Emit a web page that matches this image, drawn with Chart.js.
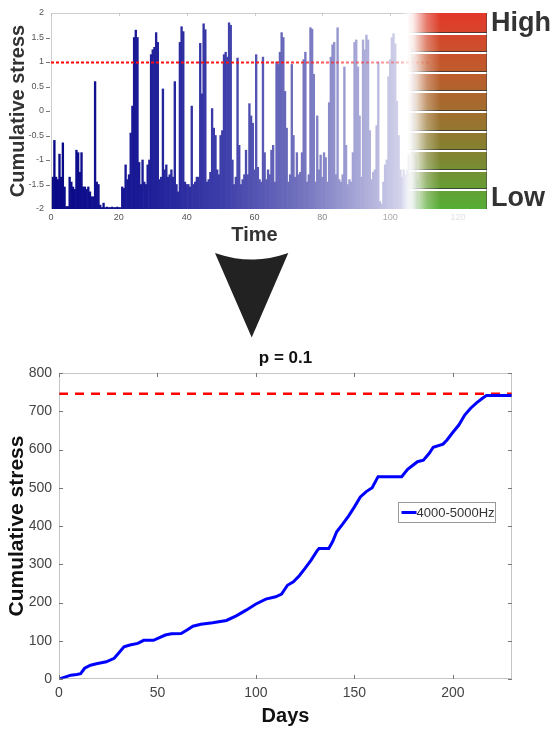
<!DOCTYPE html>
<html>
<head>
<meta charset="utf-8">
<script src="https://cdn.jsdelivr.net/npm/chart.js@4.4.1/dist/chart.umd.min.js"></script>
<style>
  html, body { margin: 0; padding: 0; background: #fff; }
  #wrap { position: relative; width: 556px; height: 731px; overflow: hidden; }
  #topChart { position: absolute; left: 0; top: 0; }
  #bottomChart { position: absolute; left: 0; top: 340px; }
  #arrow { position: absolute; left: 0; top: 0; }
</style>
</head>
<body>
<div id="wrap">
  <canvas id="topChart" width="556" height="250"></canvas>
  <svg id="arrow" width="556" height="340">
    <path d="M215,253 Q251.7,266 288.3,253 L251.7,337.5 Z" fill="#222"/>
  </svg>
  <canvas id="bottomChart" width="556" height="391"></canvas>
</div>
<script>
const FONT = "'Liberation Sans', Arial, Helvetica, sans-serif";

// ---- top panel: stress level per half time unit (t = 0.5, 1.0, ... 108)
const stressLevels = [
  -1.35,-0.6,-1.35,-1.4,-0.88,-1.35,-0.65,-1.55,-1.95,-1.95,
  -1.35,-1.45,-1.55,-1.6,-0.8,-0.85,-1.25,-0.85,-1.55,-1.55,
  -1.6,-1.55,-1.65,-1.75,-1.75,0.6,-1.45,-1.5,-1.92,-1.97,
  -1.88,-1.97,-1.96,-1.97,-1.97,-1.96,-1.97,-1.97,-1.96,-1.97,
  -1.97,-1.55,-1.58,-1.1,-1.4,-1.3,-0.45,0.1,1.5,1.65,
  1.5,-1.05,-1.5,-1.0,-1.45,-1.5,-1.1,-1.0,1.15,1.25,
  1.3,1.6,1.4,-1.4,-1.35,0.45,-1.2,-1.1,-1.35,-1.3,
  -1.2,-1.35,0.6,-1.5,-1.65,1.4,1.72,1.62,-1.45,-1.5,
  -1.5,-1.55,0.1,-1.5,-1.45,-1.35,-1.35,1.38,0.35,1.78,
  1.66,-1.45,-1.4,-1.25,0.05,-0.35,-0.5,-1.2,-1.3,-0.5,
  -0.4,1.15,1.2,1.1,1.8,1.75,-1.0,-1.5,-1.35,1.08,
  -0.7,-1.5,-1.4,-1.3,-0.8,-1.3,0.15,-0.1,-0.25,-1.2,
  1.15,-1.15,-1.4,-1.45,1.1,-0.85,-1.4,-1.2,-1.3,-0.8,
  -0.7,-1.45,1.0,0.95,1.2,1.6,1.5,0.4,-0.35,-1.45,
  -1.3,0.95,-0.5,-1.35,-0.85,-1.3,-1.25,-0.85,1.05,1.2,
  -1.45,-1.3,1.7,1.67,0.75,-1.45,-0.1,-1.2,-0.9,-1.35,
  -0.85,-0.95,-1.45,0.17,1.1,1.35,1.4,-1.3,1.7,-1.4,
  -1.45,-1.3,0.9,-0.7,-1.5,-1.4,-1.45,-0.85,1.4,1.45,
  0.9,-0.1,-1.35,1.45,1.25,1.55,1.45,-0.4,-1.4,-1.25,
  -1.2,-0.3,1.0,-1.85,-1.9,-1.45,-1.1,-1.0,0.7,1.05,
  1.5,1.58,1.37,0.2,-0.5,-1.2,-1.35,-1.2,-1.3,-1.2,
  -0.9,-1.3,1.3,1.1,-0.9,-1.4
];
const timeStep = 0.5;
const timeTicks = [0, 20, 40, 60, 80, 100, 120];
const levelTicks = [-2, -1.5, -1, -0.5, 0, 0.5, 1, 1.5, 2];
const stressThreshold = 1;

// ---- bottom panel: cumulative stress over days
const days = [0,3,6,9,11,13,16,19,24,28,30,33,36,40,43,48,51,54,57,62,65,68,72,78,85,
  90,95,100,105,110,113,116,119,122,125,128,131,132,137,139,141,144,147,150,153,156,159,162,
  174,177,180,182,185,188,190,195,197,200,203,206,209,212,215,217,230];
const cumulative = [0,5,10,12,14,28,36,40,45,54,66,84,89,93,101,101,108,115,118,119,128,138,143,147,153,
  165,180,196,209,215,222,245,254,270,290,311,335,341,341,360,385,405,426,450,476,490,500,529,
  529,548,560,568,572,590,606,614,625,645,664,690,708,722,734,741,741];
const dayTicks = [0, 50, 100, 150, 200];
const cumTicks = [0, 100, 200, 300, 400, 500, 600, 700, 800];
const cumThreshold = 746;

// blue gradient for the bars, fading to the right
let barGrad = null;
function barColor(c) {
  const chart = c.chart;
  const a = chart.chartArea;
  if (!a) return '#1a1a90';
  if (!barGrad) {
    const xs = chart.scales.x;
    const g = chart.ctx.createLinearGradient(xs.getPixelForValue(0), 0, xs.getPixelForValue(106), 0);
    g.addColorStop(0, 'rgb(8,8,135)');
    g.addColorStop(0.24, 'rgb(25,25,150)');
    g.addColorStop(0.48, 'rgb(62,62,170)');
    g.addColorStop(0.71, 'rgb(118,118,192)');
    g.addColorStop(0.9, 'rgb(182,182,222)');
    g.addColorStop(1, 'rgb(222,222,240)');
    barGrad = g;
  }
  return barGrad;
}

const topDecor = {
  id: 'topDecor',
  afterDatasetsDraw(chart) {
    const { ctx, chartArea: a, scales: { x, y } } = chart;
    ctx.save();
    // faint frame and ticks
    ctx.strokeStyle = 'rgba(185,185,185,0.7)';
    ctx.lineWidth = 1;
    ctx.beginPath();
    ctx.moveTo(a.left + 0.5, a.bottom);
    ctx.lineTo(a.left + 0.5, a.top + 0.5);
    ctx.lineTo(a.right, a.top + 0.5);
    timeTicks.forEach(t => {
      const px = Math.round(x.getPixelForValue(t)) + 0.5;
      ctx.moveTo(px, a.top);
      ctx.lineTo(px, a.top + 3);
    });
    ctx.stroke();
    ctx.strokeStyle = '#777';
    ctx.beginPath();
    levelTicks.slice(1, -1).forEach(v => {
      const py = Math.round(y.getPixelForValue(v)) + 0.5;
      ctx.moveTo(a.left - 5, py);
      ctx.lineTo(a.left - 1, py);
    });
    ctx.stroke();

    // red threshold line
    const yThr = Math.round(y.getPixelForValue(stressThreshold)) + 0.5;
    const x0 = a.left, x1 = x.getPixelForValue(112);
    const rg = ctx.createLinearGradient(x0, 0, x1, 0);
    rg.addColorStop(0, 'rgba(255,0,0,1)');
    rg.addColorStop(0.6, 'rgba(255,20,20,0.95)');
    rg.addColorStop(1, 'rgba(255,70,70,0.3)');
    ctx.strokeStyle = rg;
    ctx.lineWidth = 2;
    ctx.setLineDash([3, 2]);
    ctx.beginPath();
    ctx.moveTo(x0, yThr);
    ctx.lineTo(x1, yThr);
    ctx.stroke();
    ctx.setLineDash([]);

    // colour scale block
    const bx0 = Math.round(x.getPixelForValue(105));
    const bx1 = Math.round(a.right + 29);
    const yt = Math.round(y.getPixelForValue(2));
    const yb = Math.round(y.getPixelForValue(-2));
    const w = bx1 - bx0, h = yb - yt;
    const off = document.createElement('canvas');
    off.width = w; off.height = h;
    const o = off.getContext('2d');
    const vg = o.createLinearGradient(0, 0, 0, h);
    vg.addColorStop(0, '#e3382a');
    vg.addColorStop(0.25, '#c4572c');
    vg.addColorStop(0.5, '#a26d2e');
    vg.addColorStop(0.75, '#7d8732');
    vg.addColorStop(1, '#55ae36');
    o.fillStyle = vg;
    o.fillRect(0, 0, w, h);
    for (let k = 1; k < 10; k++) {
      const yy = Math.round(k * h / 10);
      o.fillStyle = 'rgba(45,45,45,0.75)';
      o.fillRect(0, yy - 1, w, 1);
      o.fillStyle = '#fff';
      o.fillRect(0, yy, w, 2);
    }
    o.fillStyle = 'rgba(60,60,60,0.5)';
    o.fillRect(w - 1, 0, 1, h);
    o.globalCompositeOperation = 'destination-in';
    const hg = o.createLinearGradient(0, 0, w, 0);
    hg.addColorStop(0, 'rgba(0,0,0,0)');
    hg.addColorStop(0.08, 'rgba(0,0,0,0.1)');
    hg.addColorStop(0.25, 'rgba(0,0,0,0.7)');
    hg.addColorStop(0.42, 'rgba(0,0,0,1)');
    hg.addColorStop(1, 'rgba(0,0,0,1)');
    o.fillStyle = hg;
    o.fillRect(0, 0, w, h);

    const wg = ctx.createLinearGradient(bx0 - 6, 0, bx0 + 22, 0);
    wg.addColorStop(0, 'rgba(255,255,255,0)');
    wg.addColorStop(0.35, 'rgba(255,255,255,0.92)');
    wg.addColorStop(1, 'rgba(255,255,255,0)');
    ctx.fillStyle = wg;
    ctx.fillRect(bx0 - 6, yt, 28, h);
    ctx.drawImage(off, bx0, yt);

    // High / Low labels
    ctx.fillStyle = '#333';
    ctx.font = 'bold 27px ' + FONT;
    ctx.textAlign = 'left';
    ctx.textBaseline = 'alphabetic';
    ctx.fillText('High', bx1 + 4, yt + 18);
    ctx.fillText('Low', bx1 + 4, yb - 3);
    ctx.restore();
  }
};

new Chart(document.getElementById('topChart'), {
  type: 'bar',
  data: {
    datasets: [{
      data: stressLevels.map((v, i) => ({ x: (i + 1) * timeStep, y: v })),
      base: -2,
      backgroundColor: barColor,
      borderWidth: 0,
      barPercentage: 1,
      categoryPercentage: 1
    }]
  },
  options: {
    responsive: false,
    animation: false,
    layout: { padding: { top: 13, right: 98, left: 0, bottom: 0 } },
    plugins: { legend: { display: false }, tooltip: { enabled: false } },
    scales: {
      x: {
        type: 'linear', min: 0, max: 120, offset: false,
        grid: { display: false, drawTicks: false }, border: { display: false },
        ticks: {
          stepSize: 20, padding: 3, maxRotation: 0,
          font: { family: FONT, size: 9 },
          color: c => c.tick.value >= 120 ? '#e2e2e2' : c.tick.value >= 100 ? '#aaa' : c.tick.value >= 80 ? '#888' : '#555'
        },
        title: { display: true, text: 'Time', color: '#333', font: { family: FONT, size: 20, weight: 'bold' }, padding: { top: 0, bottom: 3 } },
        afterFit: s => { s.height = 41; }
      },
      y: {
        min: -2, max: 2,
        grid: { display: false, drawTicks: false }, border: { display: false },
        ticks: { stepSize: 0.5, padding: 7, color: '#555', font: { family: FONT, size: 9 }, callback: v => String(v) },
        title: { display: true, text: 'Cumulative stress', color: '#333', font: { family: FONT, size: 20, weight: 'bold' }, padding: { top: 6, bottom: 0 } },
        afterFit: s => { s.width = 51; }
      }
    }
  },
  plugins: [topDecor]
});

const bottomDecor = {
  id: 'bottomDecor',
  afterDraw(chart) {
    const { ctx, chartArea: a, scales: { x, y } } = chart;
    ctx.save();
    // dotted box
    ctx.strokeStyle = '#8a8a8a';
    ctx.lineWidth = 1;
    ctx.setLineDash([1, 1]);
    ctx.strokeRect(a.left + 0.5, a.top + 0.5, a.right - a.left - 1, a.bottom - a.top - 1);
    ctx.setLineDash([]);
    // inward ticks
    ctx.strokeStyle = '#777';
    ctx.beginPath();
    cumTicks.forEach(v => {
      const py = Math.round(y.getPixelForValue(v)) + 0.5;
      ctx.moveTo(a.left, py); ctx.lineTo(a.left + 4, py);
      ctx.moveTo(a.right, py); ctx.lineTo(a.right - 4, py);
    });
    dayTicks.forEach(d => {
      const px = Math.round(x.getPixelForValue(d)) + 0.5;
      ctx.moveTo(px, a.bottom); ctx.lineTo(px, a.bottom - 4);
      ctx.moveTo(px, a.top); ctx.lineTo(px, a.top + 4);
    });
    ctx.stroke();

    // title
    ctx.fillStyle = '#111';
    ctx.font = 'bold 17px ' + FONT;
    ctx.textAlign = 'center';
    ctx.textBaseline = 'alphabetic';
    ctx.fillText('p = 0.1', (a.left + a.right) / 2, a.top - 10);

    // legend
    const lx = 398.5, ly = 162.5, lw = 97, lh = 20;
    ctx.fillStyle = '#fff';
    ctx.fillRect(lx, ly, lw, lh);
    ctx.strokeStyle = '#999';
    ctx.strokeRect(lx, ly, lw, lh);
    ctx.strokeStyle = '#0000ff';
    ctx.lineWidth = 3;
    ctx.beginPath();
    ctx.moveTo(lx + 3, ly + lh / 2);
    ctx.lineTo(lx + 18, ly + lh / 2);
    ctx.stroke();
    ctx.fillStyle = '#333';
    ctx.font = '13px ' + FONT;
    ctx.textAlign = 'left';
    ctx.textBaseline = 'middle';
    ctx.fillText('4000-5000Hz', lx + 18, ly + lh / 2 + 1);
    ctx.restore();
  }
};

new Chart(document.getElementById('bottomChart'), {
  type: 'line',
  data: {
    datasets: [
      {
        label: '4000-5000Hz',
        data: days.map((d, i) => ({ x: d, y: cumulative[i] })),
        borderColor: '#0000ff',
        borderWidth: 3,
        pointRadius: 0,
        tension: 0
      },
      {
        label: 'threshold',
        data: [{ x: 0, y: cumThreshold }, { x: 230, y: cumThreshold }],
        borderColor: '#ff0000',
        borderWidth: 2.5,
        borderDash: [9, 7],
        pointRadius: 0
      }
    ]
  },
  options: {
    responsive: false,
    animation: false,
    layout: { padding: { top: 33, right: 44, left: 0, bottom: 0 } },
    plugins: { legend: { display: false }, tooltip: { enabled: false } },
    scales: {
      x: {
        type: 'linear', min: 0, max: 230,
        grid: { display: false, drawTicks: false }, border: { display: false },
        ticks: { stepSize: 50, includeBounds: false, padding: 6, maxRotation: 0, color: '#444', font: { family: FONT, size: 14 } },
        title: { display: true, text: 'Days', color: '#111', font: { family: FONT, size: 20, weight: 'bold' }, padding: { top: 0, bottom: 3 } },
        afterFit: s => { s.height = 52; }
      },
      y: {
        min: 0, max: 800,
        grid: { display: false, drawTicks: false }, border: { display: false },
        ticks: { stepSize: 100, padding: 7, color: '#444', font: { family: FONT, size: 14 } },
        title: { display: true, text: 'Cumulative stress', color: '#111', font: { family: FONT, size: 21, weight: 'bold' }, padding: { top: 5, bottom: 0 } },
        afterFit: s => { s.width = 59; }
      }
    }
  },
  plugins: [bottomDecor]
});
</script>
</body>
</html>
